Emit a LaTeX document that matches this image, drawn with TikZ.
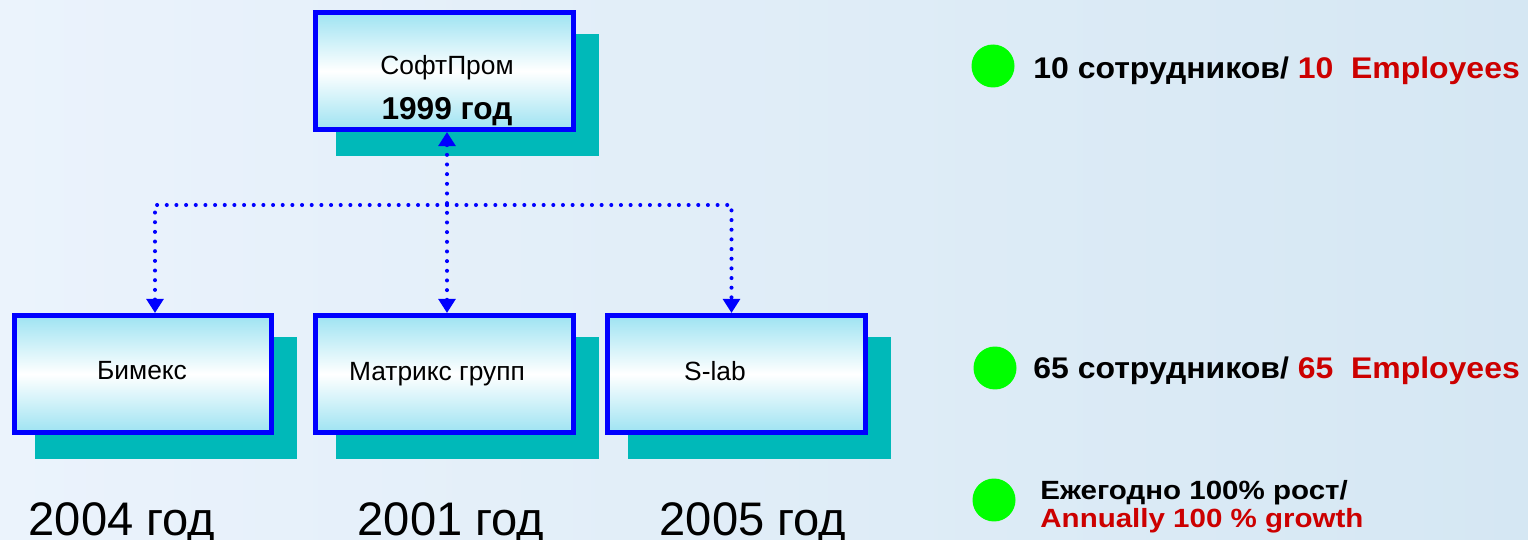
\documentclass[tikz,border=0pt]{standalone}
\usepackage{fontspec}
\setmainfont{Liberation Sans}
\usetikzlibrary{arrows.meta,calc,shadows}
\definecolor{bgl}{HTML}{EBF3FC}
\definecolor{bgr}{HTML}{D5E7F3}
\definecolor{frame}{HTML}{0000FF}
\definecolor{shadowc}{HTML}{00B9B9}
\definecolor{cyanfill}{HTML}{9EE3F2}
\definecolor{dotgreen}{HTML}{00FF00}
\definecolor{eng}{HTML}{CC0000}
\tikzset{
  org/.style={draw=frame, line width=2.85pt, minimum width=5.16cm, minimum height=2.34cm,
    inner sep=0pt, top color=cyanfill, bottom color=cyanfill, middle color=white,
    drop shadow={shadow xshift=0.46cm, shadow yshift=-0.48cm, fill=shadowc,
      draw=shadowc, line width=2.85pt, opacity=1}},
  boxtxt/.style={font=\fontsize{15}{18}\selectfont, anchor=base, inner sep=0pt},
  yeartxt/.style={font=\fontsize{18}{22}\selectfont\bfseries, anchor=base, inner sep=0pt},
  bigyear/.style={font=\fontsize{26.8}{30}\selectfont, anchor=base, inner sep=0pt},
  link/.style={draw=frame, line width=2.3pt, line cap=round, dash pattern=on 0pt off 5.5pt},
  arr/.style={-{Triangle[width=9.5pt,length=8pt]}},
  bullet/.style={circle, fill=dotgreen, minimum size=0.86cm, inner sep=0pt},
  fact/.style={font=\fontsize{17}{20}\selectfont\bfseries, anchor=base west, inner sep=0pt,
    xscale=1.07, transform shape},
  factsm/.style={font=\fontsize{15}{17}\selectfont\bfseries, anchor=base west, inner sep=0pt,
    xscale=1.12, transform shape}
}

\begin{document}
\begin{tikzpicture}[x=0.02cm, y=-0.02cm]
  % background
  \useasboundingbox (0,0) rectangle (1528,540);
  \fill[left color=bgl, right color=bgr] (0,0) rectangle (1528,540);

  % boxes
  \node[org] (softprom) at (444.5,71) {};
  \node[boxtxt] (softname) at (447,75) {СофтПром};
  \node[yeartxt] (softyear) at (447,120) {1999 год};

  \node[org] (bimex) at (143,374) {};
  \node[boxtxt] (bimexname) at (142,379) {Бимекс};
  \node[org] (matrix) at (444.5,374) {};
  \node[boxtxt] (matrixname) at (437,380) {Матрикс групп};
  \node[org] (slab) at (736.5,374) {};
  \node[boxtxt] (slabname) at (715,380) {S-lab};

  % connectors
  \coordinate (hub) at (447,205);
  \draw[link, {Triangle[width=9.5pt,length=8pt]}-{Triangle[width=9.5pt,length=8pt]}]
    ([xshift=0.05cm]softprom.south) -- ([xshift=0.05cm]matrix.north);
  \draw[link, arr] (hub) -| ([xshift=0.24cm]bimex.north);
  \draw[link, arr] (hub) -| ([xshift=-0.1cm]slab.north);

  % years
  \node[bigyear] (bimexyear) at (122,535) {2004 год};
  \node[bigyear] (matrixyear) at (451,535) {2001 год};
  \node[bigyear] (slabyear) at (753,535) {2005 год};

  % facts
  \node[bullet] (dot1) at (993,66) {};
  \node[fact] (staff1) at (1033,79) {10 сотрудников/ \textcolor{eng}{10~~Employees}};
  \node[bullet] (dot2) at (995,368) {};
  \node[fact] (staff2) at (1033,378) {65 сотрудников/ \textcolor{eng}{65~~Employees}};
  \node[bullet] (dot3) at (994,500) {};
  \node[factsm] (growthru) at (1040,499) {Ежегодно 100\% рост/};
  \node[factsm, text=eng] (growthen) at (1040,527) {Annually 100 \% growth};
\end{tikzpicture}
\end{document}
